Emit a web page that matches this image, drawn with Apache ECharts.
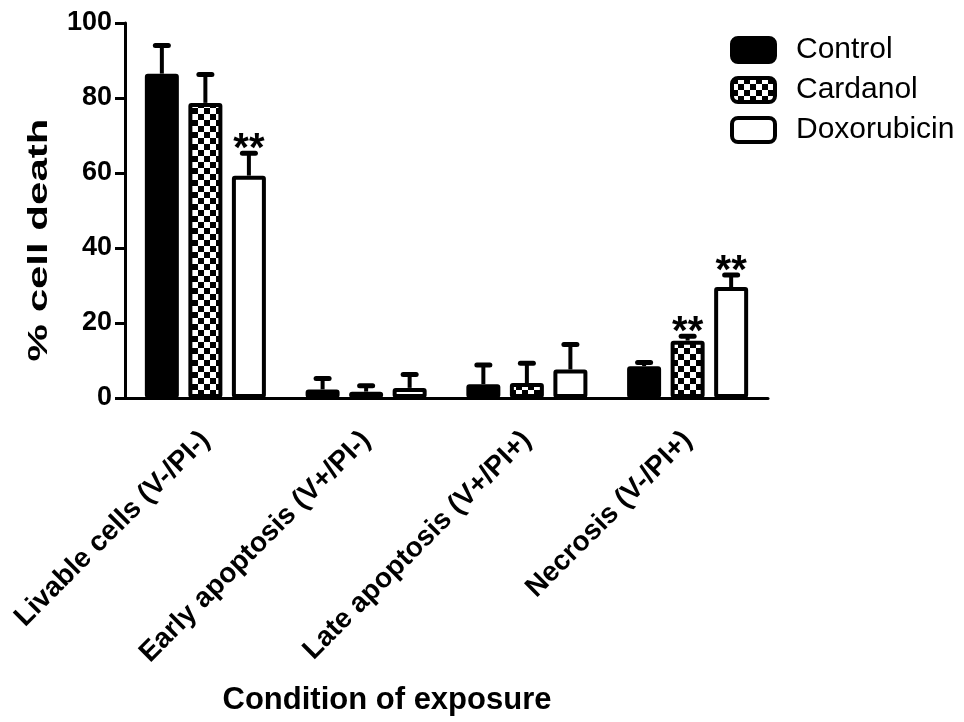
<!DOCTYPE html>
<html>
<head>
<meta charset="utf-8">
<script src="https://cdn.jsdelivr.net/npm/echarts@6/dist/echarts.min.js"></script>
<style>
  html, body { margin: 0; padding: 0; background: #ffffff; }
  #chart { width: 964px; height: 722px; }
</style>
</head>
<body>
<div id="chart"></div>
<script>
// Flow cytometry outcome per exposure group (mean with SD, % of cells)
const categories = ['Livable cells (V-/PI-)', 'Early apoptosis (V+/PI-)', 'Late apoptosis (V+/PI+)', 'Necrosis (V-/PI+)'];
const seriesNames = ['Control', 'Cardanol', 'Doxorubicin'];
const controlMean = [86.5, 2.3, 3.7, 8.5];
const controlSD = [7.5, 2.9, 5.1, 1.0];
const cardanolMean = [78.7, 1.7, 4.0, 15.3];
const cardanolSD = [7.6, 1.6, 5.3, 1.2];
const doxorubicinMean = [59.3, 2.7, 7.6, 29.6];
const doxorubicinSD = [6.0, 3.6, 6.7, 3.2];
// significance markers vs. control
const controlSig = ['', '', '', ''];
const cardanolSig = ['', '', '', '**'];
const doxorubicinSig = ['**', '', '', '**'];
const yTicks = [0, 20, 40, 60, 80, 100];

const FONT = '"Liberation Sans", Arial, Helvetica, sans-serif';
const BAR_W = 34;
const BAR_GAP = 0.28;
const LINE_W = 4;

// black/white checkerboard fill
function checker(size) {
  const c = document.createElement('canvas');
  c.width = c.height = size * 2;
  const g = c.getContext('2d');
  g.fillStyle = '#ffffff';
  g.fillRect(0, 0, size * 2, size * 2);
  g.fillStyle = '#000000';
  g.fillRect(0, 0, size, size);
  g.fillRect(size, size, size, size);
  return c;
}

const fills = ['#000000', { image: checker(6), repeat: 'repeat' }, '#ffffff'];
const means = [controlMean, cardanolMean, doxorubicinMean];
const sds = [controlSD, cardanolSD, doxorubicinSD];
const sigs = [controlSig, cardanolSig, doxorubicinSig];

function barSeries(idx) {
  return {
    type: 'bar',
    name: seriesNames[idx],
    data: means[idx],
    barWidth: BAR_W,
    barGap: (BAR_GAP * 100) + '%',
    z: 2,
    itemStyle: {
      color: fills[idx],
      borderColor: '#000000',
      borderWidth: LINE_W,
      borderJoin: 'round',
      borderRadius: 1
    },
    emphasis: { disabled: true }
  };
}

function errorSeries(idx) {
  const mean = means[idx], sd = sds[idx], sig = sigs[idx];
  return {
    type: 'custom',
    name: seriesNames[idx] + ' SD',
    z: 3,
    data: mean.map((m, i) => [i, m, sd[i]]),
    encode: { x: 0, y: 1 },
    renderItem(params, api) {
      const cat = api.value(0), m = api.value(1), e = api.value(2);
      const off = (idx - 1) * BAR_W * (1 + BAR_GAP);
      const base = api.coord([cat, m]);
      const top = api.coord([cat, m + e]);
      const x = base[0] + off;
      const children = [
        { type: 'line', shape: { x1: x, y1: base[1], x2: x, y2: top[1] }, style: { stroke: '#000000', lineWidth: LINE_W } },
        { type: 'line', shape: { x1: x - 6.5, y1: top[1], x2: x + 6.5, y2: top[1] }, style: { stroke: '#000000', lineWidth: LINE_W + 1, lineCap: 'round' } }
      ];
      const s = sig[params.dataIndex];
      if (s) {
        children.push({
          type: 'text',
          style: {
            text: s, x: x, y: top[1] - 3,
            align: 'center', verticalAlign: 'middle',
            font: 'bold 40px ' + FONT, fill: '#000000'
          }
        });
      }
      return { type: 'group', children };
    }
  };
}

const chart = echarts.init(document.getElementById('chart'), null, { renderer: 'canvas' });

chart.setOption({
  animation: false,
  backgroundColor: '#ffffff',
  grid: { left: 125, right: 196, top: 23, bottom: 324, containLabel: false },
  legend: {
    orient: 'vertical',
    left: 725,
    top: 30,
    itemWidth: 43,
    itemHeight: 24,
    itemGap: 10,
    data: seriesNames,
    selectedMode: false,
    itemStyle: { borderWidth: 4, borderColor: '#000000' },
    textStyle: { fontFamily: FONT, fontSize: 30, color: '#000000', padding: [0, 0, 0, 16] }
  },
  xAxis: {
    type: 'category',
    data: categories,
    axisLine: { lineStyle: { color: '#000000', width: 3 } },
    axisTick: { alignWithLabel: true, length: 12, lineStyle: { color: '#000000', width: 3 } },
    axisLabel: {
      interval: 0, rotate: 45, margin: 38,
      fontFamily: FONT, fontSize: 28, fontWeight: 'bold', color: '#000000'
    },
    splitLine: { show: false }
  },
  yAxis: {
    type: 'value',
    min: yTicks[0],
    max: yTicks[yTicks.length - 1],
    interval: yTicks[1] - yTicks[0],
    axisLine: { show: true, lineStyle: { color: '#000000', width: 3 } },
    axisTick: { show: true, length: 10, lineStyle: { color: '#000000', width: 3 } },
    axisLabel: { margin: 13, fontFamily: FONT, fontSize: 27, fontWeight: 'bold', color: '#000000' },
    splitLine: { show: false }
  },
  graphic: [
    {
      type: 'text', x: 39, y: 240, rotation: Math.PI / 2, scaleX: 1.5,
      style: { text: '% cell death', font: 'bold 28px ' + FONT, align: 'center', verticalAlign: 'middle', fill: '#000000' }
    },
    {
      type: 'text', x: 387, y: 700,
      style: { text: 'Condition of exposure', font: 'bold 31px ' + FONT, align: 'center', verticalAlign: 'middle', fill: '#000000' }
    }
  ],
  series: [barSeries(0), barSeries(1), barSeries(2), errorSeries(0), errorSeries(1), errorSeries(2)]
});
</script>
</body>
</html>
